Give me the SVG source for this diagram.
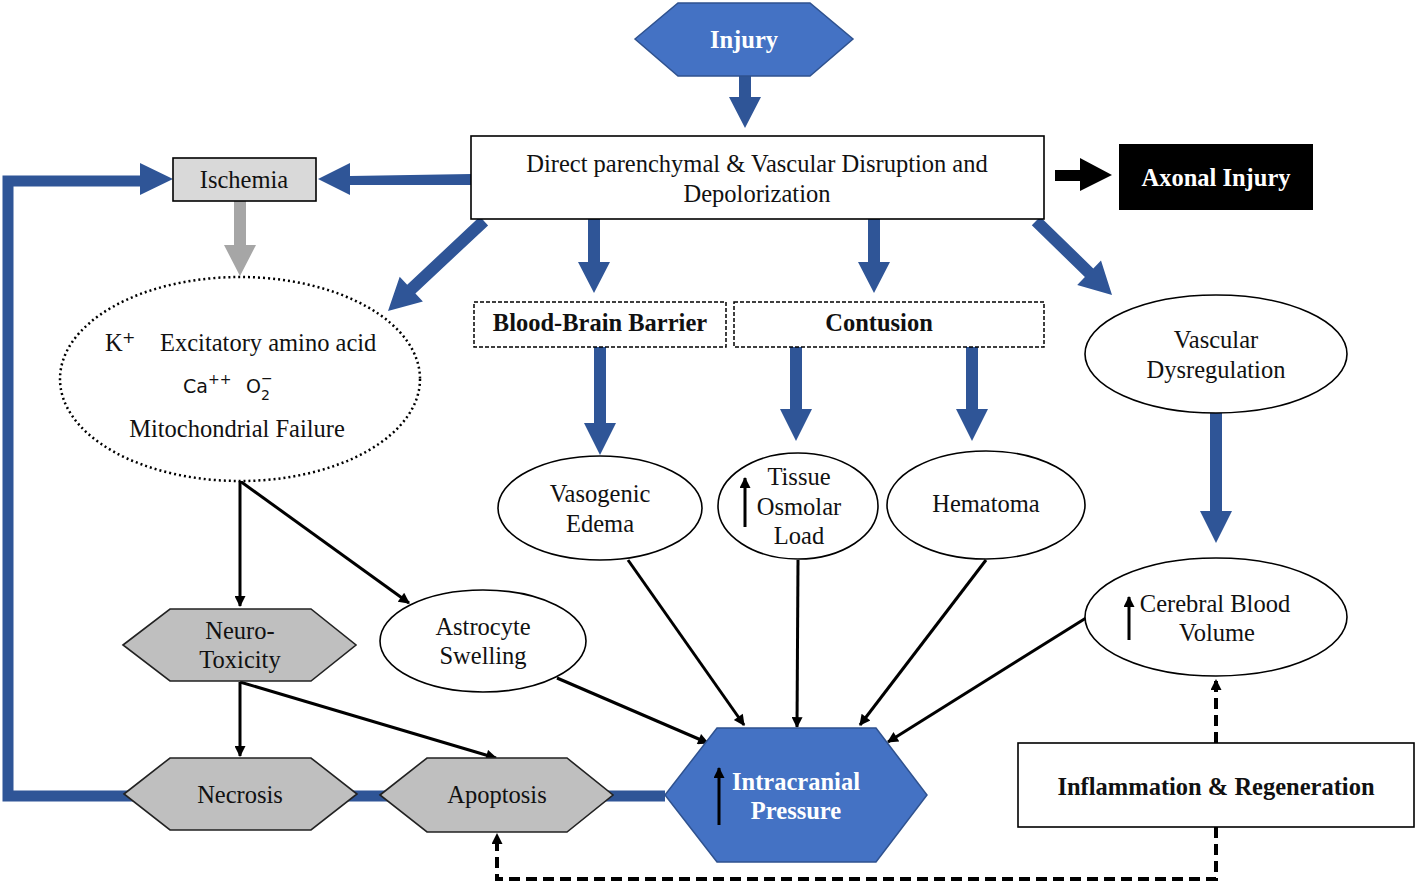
<svg xmlns="http://www.w3.org/2000/svg" width="1418" height="884" viewBox="0 0 1418 884">
<style>
.t{font-family:"Liberation Serif","Times New Roman",serif;font-size:24.5px;fill:#111;text-anchor:middle}
.b{font-weight:bold}
.w{fill:#fff}
.blue{fill:#2F5597}
.ln{stroke:#000;stroke-width:3;fill:none}
.dsh{stroke:#000;stroke-width:4;fill:none;stroke-dasharray:11 6}
.ell{fill:#fff;stroke:#000;stroke-width:1.6}
.hexg{fill:#BFBFBF;stroke:#222;stroke-width:1.6}
.hexb{fill:#4472C4;stroke:#2F528F;stroke-width:1.5}
</style>
<defs>
<marker id="ah" viewBox="0 0 10 10" refX="9" refY="5" markerWidth="13" markerHeight="11" markerUnits="userSpaceOnUse" orient="auto"><path d="M0,0 L10,5 L0,10 z" fill="#000"/></marker>
</defs>
<rect width="1418" height="884" fill="#fff"/>

<g id="connectors">
  <path d="M665,796 H8 V181 H148" fill="none" stroke="#2F5597" stroke-width="11"/>
  <polygon class="blue" points="140,163 173,179 140,195"/>
  <polygon class="blue" points="739,76 751,76 751,97 761,97 745,128 729,97 739,97"/>
  <polygon class="blue" points="471,174 350,176 350,163 318,179 350,195 350,185 471,185"/>
  <polygon fill="#A6A6A6" points="234,201 246,201 246,245 256,245 240,276 224,245 234,245"/>
  <polygon class="blue" points="488.1,225.4 415.4,293.5 422.9,301.5 388,311 399.7,276.7 407.2,284.7 479.9,216.6"/>
  <polygon class="blue" points="1031.8,225.3 1084.9,277 1077.2,284.9 1112,295 1101,260.5 1093.3,268.4 1040.2,216.7"/>
  <polygon class="blue" points="588,219 600,219 600,262 610,262 594,293 578,262 588,262"/>
  <polygon class="blue" points="868,219 880,219 880,262 890,262 874,293 858,262 868,262"/>
  <polygon class="blue" points="594,347 606,347 606,423 616,423 600,455 584,423 594,423"/>
  <polygon class="blue" points="790,347 802,347 802,409 812,409 796,441 780,409 790,409"/>
  <polygon class="blue" points="966,347 978,347 978,409 988,409 972,441 956,409 966,409"/>
  <polygon class="blue" points="1210,413 1222,413 1222,511 1232,511 1216,543 1200,511 1210,511"/>
  <polygon fill="#000" points="1055,170 1080,170 1080,158 1112,175 1080,191 1080,181 1055,181"/>
  <line class="ln" x1="240" y1="481" x2="240" y2="606" marker-end="url(#ah)"/>
  <line class="ln" x1="240" y1="481" x2="409" y2="603" marker-end="url(#ah)"/>
  <line class="ln" x1="240" y1="682" x2="240" y2="756" marker-end="url(#ah)"/>
  <line class="ln" x1="240" y1="682" x2="496" y2="758" marker-end="url(#ah)"/>
  <line class="ln" x1="557" y1="678" x2="708" y2="743" marker-end="url(#ah)"/>
  <line class="ln" x1="628" y1="560" x2="744" y2="725" marker-end="url(#ah)"/>
  <line class="ln" x1="798" y1="560" x2="797" y2="727" marker-end="url(#ah)"/>
  <line class="ln" x1="986" y1="560" x2="860" y2="725" marker-end="url(#ah)"/>
  <line class="ln" x1="1086" y1="618" x2="888" y2="742" marker-end="url(#ah)"/>
  <line class="dsh" x1="1216" y1="743" x2="1216" y2="680" marker-end="url(#ah)"/>
  <path class="dsh" d="M1216,827 V879 H497 V834" marker-end="url(#ah)"/>
</g>

<g id="injury">
  <polygon class="hexb" points="635,39 678,3 810,3 853,39 810,76 678,76"/>
  <text class="t b w" x="744" y="48">Injury</text>
</g>

<g id="main">
  <rect x="471" y="136" width="573" height="83" fill="#fff" stroke="#000" stroke-width="1.6"/>
  <text class="t" x="757" y="172">Direct parenchymal &amp; Vascular Disruption and</text>
  <text class="t" x="757" y="202">Depolorization</text>
</g>

<g id="axonal">
  <rect x="1119" y="144" width="194" height="66" fill="#000"/>
  <text class="t b w" x="1216" y="186">Axonal Injury</text>
</g>

<g id="ischemia">
  <rect x="173" y="158" width="143" height="43" fill="#D9D9D9" stroke="#000" stroke-width="1.6"/>
  <text class="t" x="244" y="188">Ischemia</text>
</g>

<g id="excitatory">
  <ellipse cx="240" cy="379" rx="180" ry="102" fill="#fff" stroke="#000" stroke-width="2.5" stroke-dasharray="2 3"/>
  <text class="t" x="105" y="351" style="text-anchor:start">K</text>
  <text x="122" y="343" font-family="DejaVu Sans, sans-serif" font-size="16" fill="#111">+</text>
  <text class="t" x="160" y="351" style="text-anchor:start">Excitatory amino acid</text>
  <text x="183" y="393" font-family="DejaVu Sans, sans-serif" font-size="19" fill="#111">Ca</text>
  <text x="208" y="384" font-family="DejaVu Sans, sans-serif" font-size="14" fill="#111">++</text>
  <text x="246" y="393" font-family="DejaVu Sans, sans-serif" font-size="19" fill="#111">O</text>
  <text x="261" y="400" font-family="DejaVu Sans, sans-serif" font-size="14" fill="#111">2</text>
  <text x="261" y="383" font-family="DejaVu Sans, sans-serif" font-size="14" fill="#111">−</text>
  <text class="t" x="237" y="437">Mitochondrial Failure</text>
</g>

<g id="bbb">
  <rect x="474" y="302" width="252" height="45" fill="#fff" stroke="#000" stroke-width="1.5" stroke-dasharray="4 2"/>
  <text class="t b" x="600" y="331">Blood-Brain Barrier</text>
</g>

<g id="contusion">
  <rect x="734" y="302" width="310" height="45" fill="#fff" stroke="#000" stroke-width="1.5" stroke-dasharray="4 2"/>
  <text class="t b" x="879" y="331">Contusion</text>
</g>

<g id="vascular">
  <ellipse class="ell" cx="1216" cy="354" rx="131" ry="59"/>
  <text class="t" x="1216" y="348">Vascular</text>
  <text class="t" x="1216" y="378">Dysregulation</text>
</g>

<g id="vasogenic">
  <ellipse class="ell" cx="600" cy="508" rx="102" ry="52"/>
  <text class="t" x="600" y="502">Vasogenic</text>
  <text class="t" x="600" y="532">Edema</text>
</g>

<g id="tissue">
  <ellipse class="ell" cx="798" cy="506" rx="80" ry="53"/>
  <line class="ln" x1="745" y1="527" x2="745" y2="478" marker-end="url(#ah)"/>
  <text class="t" x="799" y="485">Tissue</text>
  <text class="t" x="799" y="515">Osmolar</text>
  <text class="t" x="799" y="544">Load</text>
</g>

<g id="hematoma">
  <ellipse class="ell" cx="986" cy="505" rx="99" ry="54"/>
  <text class="t" x="986" y="512">Hematoma</text>
</g>

<g id="cbv">
  <ellipse class="ell" cx="1216" cy="617" rx="131" ry="59"/>
  <line class="ln" x1="1129" y1="640" x2="1129" y2="597" marker-end="url(#ah)"/>
  <text class="t" x="1215" y="612">Cerebral Blood</text>
  <text class="t" x="1217" y="641">Volume</text>
</g>

<g id="inflammation">
  <rect x="1018" y="743" width="396" height="84" fill="#fff" stroke="#000" stroke-width="1.6"/>
  <text class="t b" x="1216" y="795">Inflammation &amp; Regeneration</text>
</g>

<g id="astrocyte">
  <ellipse class="ell" cx="483" cy="641" rx="103" ry="51"/>
  <text class="t" x="483" y="635">Astrocyte</text>
  <text class="t" x="483" y="664">Swelling</text>
</g>

<g id="neurotoxicity">
  <polygon class="hexg" points="123,645 170,609 311,609 356,645 311,681 170,681"/>
  <text class="t" x="240" y="639">Neuro-</text>
  <text class="t" x="240" y="668">Toxicity</text>
</g>

<g id="necrosis">
  <polygon class="hexg" points="124,794 170,758 311,758 357,794 311,830 170,830"/>
  <text class="t" x="240" y="803">Necrosis</text>
</g>

<g id="apoptosis">
  <polygon class="hexg" points="380,795 427,758 567,758 613,795 567,832 427,832"/>
  <text class="t" x="497" y="803">Apoptosis</text>
</g>

<g id="icp">
  <polygon class="hexb" points="665,795 717,728 876,728 927,795 876,862 717,862"/>
  <line class="ln" x1="719" y1="825" x2="719" y2="768" marker-end="url(#ah)"/>
  <text class="t b w" x="796" y="790">Intracranial</text>
  <text class="t b w" x="796" y="819">Pressure</text>
</g>
</svg>
